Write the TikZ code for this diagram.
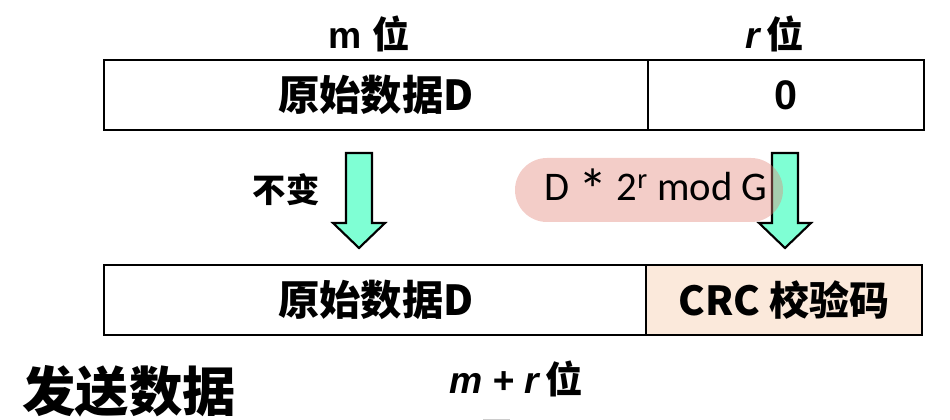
\documentclass[tikz,border=0pt]{standalone}
\usepackage{fontspec}
\setmainfont{Liberation Sans}
\newfontfamily\cjk{Noto Sans CJK SC}
\newfontfamily\remfont{Carlito}
\usetikzlibrary{positioning}
\definecolor{arrowgreen}{RGB}{127,255,212}
\definecolor{crcpeach}{RGB}{251,233,219}
\definecolor{rempink}{RGB}{226,130,118}

\begin{document}
\begin{tikzpicture}[x=0.75pt,y=-0.75pt,
		cell/.style={draw,line width=2pt,minimum height=52.5pt,inner sep=0pt,
			font=\cjk\bfseries\fontsize{31}{31}\selectfont},
		wide/.style={cell,minimum width=408pt},
		narrow/.style={cell,minimum width=207pt},
		blockarrow/.style={draw,line width=1.6pt,fill=arrowgreen,line join=miter},
		pill/.style={fill=rempink,fill opacity=0.4,text opacity=1,rounded corners=24pt,
			minimum width=201pt,minimum height=48pt,inner sep=0pt,
			font=\remfont\fontsize{30.5}{30.5}\selectfont},
		bits/.style={font=\bfseries\fontsize{28}{28}\selectfont}]
		\useasboundingbox (0,0) rectangle (950,420);
		% Top row: data and r zeros
		\node[wide] (dataTop) at (376,95) {原始数据D};
		\node[narrow] (zeroTop) at (786,95) {\rmfamily 0};
		\node[bits] (mBits) at (369,34) {m {\cjk 位}};
		\node[bits] (rBits) at (775,34) {\itshape r\,{\upshape\cjk 位}};
		
		% Arrows down
		\foreach \ax in {359,785}
			\draw[blockarrow] (\ax-13,153) -- (\ax+13,153) -- (\ax+13,223) -- (\ax+26,223)
				-- (\ax,248) -- (\ax-26,223) -- (\ax-13,223) -- cycle;
		\node[font=\cjk\bfseries\fontsize{25}{25}\selectfont] (keep) at (286,190) {不变};
		\node[pill] (rem) at (649,190) {\hspace{10pt}D \raisebox{-0.55ex}{\fontsize{44}{44}\selectfont *} 2\textsuperscript{r} mod G};
		
		% Bottom row: data sent
		\node[wide] (dataBot) at (376,300) {原始数据D};
		\node[narrow,fill=crcpeach,font=\cjk\bfseries\fontsize{30}{30}\selectfont] (crc) at (784,300) {CRC 校验码};
		\node[font=\cjk\bfseries\fontsize{40}{40}\selectfont] (send) at (129,391) {发送数据};
		\node[bits] (total) at (516,379) {\itshape m + r\,{\upshape\cjk 位}};
		\draw[black!20,line width=0.75pt] (483,419.5) -- (510,419.5);
	\end{tikzpicture}
\end{document}
